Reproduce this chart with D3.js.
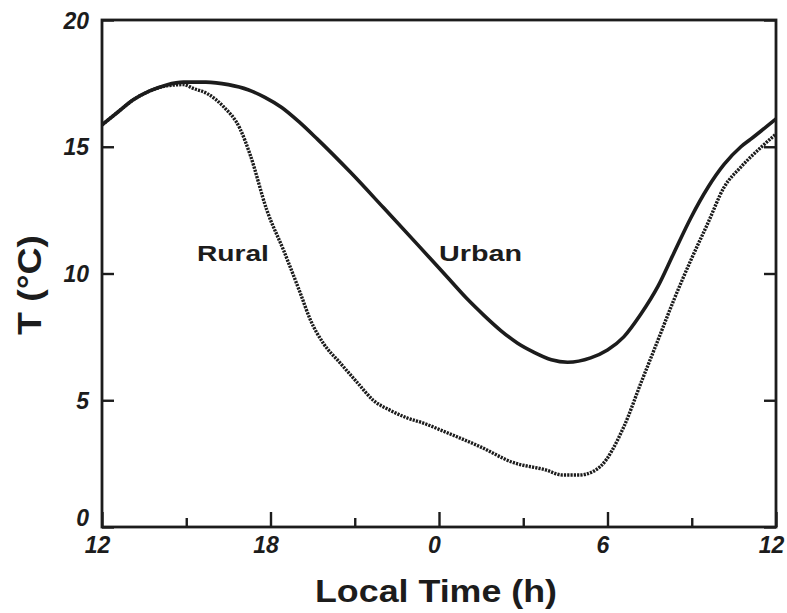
<!DOCTYPE html>
<html>
<head>
<meta charset="utf-8">
<script src="https://cdn.jsdelivr.net/npm/d3@7"></script>
<style>
    body { margin: 0; background: #fff; }
    svg { display: block; }
    text { font-family: "Liberation Sans", Arial, sans-serif; fill: #1c1c1c; }
</style>
</head>
<body>
<svg id="chart" width="787" height="613"></svg>
<script>
//
// ***********************************************************************************
//                      DATA
// ***********************************************************************************
//

// Hours counted from noon (12) through midnight (24) to the next noon (36).
const urbanHours = [12.0, 12.6, 13.1, 13.7, 14.3, 14.9, 15.7, 16.5, 17.2, 17.8, 18.4, 19.0, 19.67, 20.84, 22.02, 23.23, 24.3, 25.0, 25.6, 26.2, 26.8, 27.37, 28.0, 28.58, 29.4, 30.0, 30.58, 31.19, 31.8, 32.36, 32.97, 33.58, 34.15, 34.75, 35.1, 36.0];
const urbanTemps = [15.86, 16.4, 16.84, 17.2, 17.44, 17.55, 17.55, 17.45, 17.25, 16.95, 16.55, 16.0, 15.3, 14.0, 12.6, 11.15, 9.85, 9.0, 8.35, 7.75, 7.25, 6.9, 6.6, 6.5, 6.67, 6.98, 7.5, 8.4, 9.5, 10.8, 12.2, 13.4, 14.3, 15.0, 15.3, 16.1];

const ruralHours = [12.0, 12.6, 13.1, 13.7, 14.3, 14.9, 15.25, 15.74, 16.31, 16.92, 17.28, 17.87, 18.46, 19.06, 19.42, 19.88, 20.48, 21.09, 21.66, 22.27, 22.87, 23.44, 24.05, 24.66, 25.48, 26.6, 27.8, 28.4, 29.0, 29.5, 29.76, 30.58, 31.19, 31.8, 32.36, 32.97, 33.58, 34.15, 34.75, 35.36, 36.0];
const ruralTemps = [15.86, 16.4, 16.84, 17.2, 17.4, 17.45, 17.3, 17.1, 16.6, 15.7, 14.67, 12.5, 10.93, 9.23, 8.17, 7.25, 6.47, 5.7, 5.0, 4.6, 4.3, 4.1, 3.83, 3.55, 3.16, 2.56, 2.25, 2.05, 2.05, 2.2, 2.4, 3.95, 5.68, 7.38, 8.95, 10.53, 12.0, 13.4, 14.2, 14.87, 15.5];

const xMajorTicks = [12, 18, 24, 30, 36];
const xTickLabels = ["12", "18", "0", "6", "12"];
const xMinorTicks = [15, 21, 27, 33];
const yTicks = [0, 5, 10, 15, 20];
const yTickLabels = ["0", "5", "10", "15", "20"];

//
// ***********************************************************************************
//                      CHART
// ***********************************************************************************
//

const svg = d3.select("#chart");
const margin = { top: 20, right: 11, bottom: 86, left: 102 };
const width = 787 - margin.left - margin.right;
const height = 613 - margin.top - margin.bottom;
const ink = "#1c1c1c";

const x = d3.scaleLinear().domain([12, 36]).range([0, width]);
const y = d3.scaleLinear().domain([0, 20]).range([height, 0]);

const g = svg.append("g")
    .attr("transform", `translate(${margin.left},${margin.top})`);

// Curves
const line = d3.line()
    .x(d => x(d[0]))
    .y(d => y(d[1]))
    .curve(d3.curveMonotoneX);

g.append("path")
    .datum(d3.zip(ruralHours, ruralTemps))
    .attr("d", line)
    .attr("fill", "none")
    .attr("stroke", ink)
    .attr("stroke-width", 3.4)
    .attr("stroke-dasharray", "2.2,1.1");

g.append("path")
    .datum(d3.zip(urbanHours, urbanTemps))
    .attr("d", line)
    .attr("fill", "none")
    .attr("stroke", ink)
    .attr("stroke-width", 3.6);

// Bottom axis: major ticks with labels, minor ticks without.
const xAxis = g.append("g")
    .attr("transform", `translate(0,${height})`)
    .call(d3.axisBottom(x)
        .tickValues(xMajorTicks)
        .tickSize(-15)
        .tickPadding(10)
        .tickFormat((d, i) => xTickLabels[i]));
xAxis.selectAll("text")
    .attr("dx", -5)
    .style("font-size", "23px")
    .style("font-weight", "bold")
    .style("font-style", "italic");

g.append("g")
    .attr("transform", `translate(0,${height})`)
    .call(d3.axisBottom(x)
        .tickValues(xMinorTicks)
        .tickSize(-9)
        .tickFormat(""));

// Left axis with labels, right axis ticks only.
const yAxis = g.append("g")
    .call(d3.axisLeft(y)
        .tickValues(yTicks)
        .tickSize(-12)
        .tickPadding(13)
        .tickFormat((d, i) => yTickLabels[i]));
yAxis.selectAll("text")
    .attr("dy", d => d === 0 ? "-0.05em" : "0.35em")
    .style("font-size", "23px")
    .style("font-weight", "bold")
    .style("font-style", "italic");

g.append("g")
    .attr("transform", `translate(${width},0)`)
    .call(d3.axisRight(y)
        .tickValues(yTicks)
        .tickSize(-12)
        .tickFormat(""));

g.selectAll(".domain").remove();
g.selectAll(".tick line")
    .attr("stroke", ink)
    .attr("stroke-width", 2.4);

// Frame
g.append("rect")
    .attr("width", width)
    .attr("height", height)
    .attr("fill", "none")
    .attr("stroke", ink)
    .attr("stroke-width", 2.8);

// Curve labels
g.append("text")
    .attr("x", x(15.38))
    .attr("y", y(10.5))
    .attr("textLength", 72)
    .attr("lengthAdjust", "spacingAndGlyphs")
    .style("font-size", "22px")
    .style("font-weight", "bold")
    .text("Rural");

g.append("text")
    .attr("x", x(24))
    .attr("y", y(10.5))
    .attr("textLength", 83)
    .attr("lengthAdjust", "spacingAndGlyphs")
    .style("font-size", "22px")
    .style("font-weight", "bold")
    .text("Urban");

// Axis titles
svg.append("text")
    .attr("x", 315)
    .attr("y", 602)
    .attr("textLength", 242)
    .attr("lengthAdjust", "spacingAndGlyphs")
    .style("font-size", "31px")
    .style("font-weight", "bold")
    .text("Local Time (h)");

svg.append("text")
    .attr("transform", "translate(41,335) rotate(-90)")
    .attr("textLength", 100)
    .attr("lengthAdjust", "spacingAndGlyphs")
    .style("font-size", "33px")
    .style("font-weight", "bold")
    .text("T (°C)");
</script>
</body>
</html>
